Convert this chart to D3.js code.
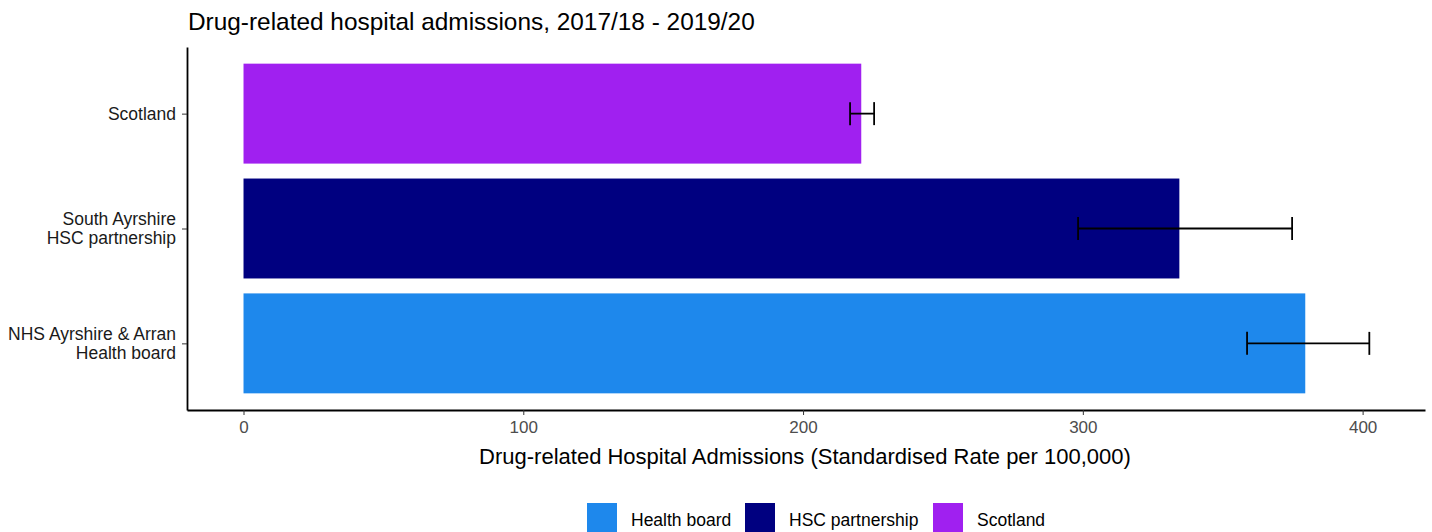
<!DOCTYPE html>
<html><head><meta charset="utf-8">
<script src="https://cdn.jsdelivr.net/npm/d3@7"></script>
<style>body{margin:0;background:#fff;font-family:"Liberation Sans",Arial,sans-serif;}</style>
</head><body><svg id="c" width="1432" height="532"></svg>
<script>
const categories = ["Scotland", "South Ayrshire\nHSC partnership", "NHS Ayrshire & Arran\nHealth board"];
const groups = ["Scotland", "HSC partnership", "Health board"];
const values = [220.8, 334.5, 379.5];
const lower = [216.8, 298.3, 358.7];
const upper = [225.4, 374.8, 402.4];
const xTicks = [0, 100, 200, 300, 400];
const legendKeys = ["Health board", "HSC partnership", "Scotland"];
const colors = {"Health board": "#1E88EC", "HSC partnership": "#000080", "Scotland": "#A020F0"};

const svg = d3.select("#c");
const L = 187, R = 1425, T = 47, B = 410;
const x = d3.scaleLinear().domain([-20.2, 422.3]).range([L, R]);
const y = d3.scalePoint().domain(categories).range([T, B]).padding(0.58);
const step = y.step();
const barH = step * 0.87;

svg.append("text").attr("x", 188).attr("y", 30).attr("font-size", 24.4).attr("fill", "#000")
  .text("Drug-related hospital admissions, 2017/18 - 2019/20");

// bars
svg.selectAll("rect.bar").data(categories).enter().append("rect")
  .attr("x", x(0)).attr("y", d => y(d) - barH / 2)
  .attr("width", (d, i) => x(values[i]) - x(0)).attr("height", barH)
  .attr("fill", (d, i) => colors[groups[i]]);

// error bars
const capH = 23;
const eb = svg.append("g").attr("stroke", "#000").attr("stroke-width", 1.8);
categories.forEach((c, i) => {
  const cy = y(c);
  eb.append("line").attr("x1", x(lower[i])).attr("x2", x(upper[i])).attr("y1", cy).attr("y2", cy);
  eb.append("line").attr("x1", x(lower[i])).attr("x2", x(lower[i])).attr("y1", cy - capH / 2).attr("y2", cy + capH / 2);
  eb.append("line").attr("x1", x(upper[i])).attr("x2", x(upper[i])).attr("y1", cy - capH / 2).attr("y2", cy + capH / 2);
});

// x axis
const xa = svg.append("g").attr("transform", `translate(0,${B})`)
  .call(d3.axisBottom(x).tickValues(xTicks).tickSize(5).tickPadding(6).tickSizeOuter(0));
xa.select(".domain").attr("stroke", "#000").attr("stroke-width", 1.8);
xa.selectAll(".tick line").attr("stroke", "#333").attr("stroke-width", 1);
xa.selectAll(".tick text").attr("font-size", 17).attr("fill", "#4d4d4d").attr("font-family", "Liberation Sans, Arial, sans-serif");

// y axis
const ya = svg.append("g").attr("transform", `translate(${L},0)`)
  .call(d3.axisLeft(y).tickSize(5).tickSizeOuter(0).tickFormat(""));
ya.select(".domain").attr("stroke", "#000").attr("stroke-width", 1.8);
ya.selectAll(".tick line").attr("stroke", "#333").attr("stroke-width", 1);
categories.forEach(c => {
  const lines = c.split("\n");
  const t = svg.append("text").attr("text-anchor", "end").attr("font-size", 17.5).attr("fill", "#1a1a1a");
  const lh = 19.5;
  const start = y(c) - (lines.length - 1) * lh / 2 + 6;
  lines.forEach((ln, k) => t.append("tspan").attr("x", 176).attr("y", start + k * lh).text(ln));
});

// x title
svg.append("text").attr("x", 805).attr("y", 464).attr("text-anchor", "middle")
  .attr("font-size", 22).attr("fill", "#000")
  .text("Drug-related Hospital Admissions (Standardised Rate per 100,000)");

// legend
const legX = [587, 745, 933];
const lg = svg.append("g");
legendKeys.forEach((k, i) => {
  lg.append("rect").attr("x", legX[i]).attr("y", 503).attr("width", 30).attr("height", 30).attr("fill", colors[k]);
  lg.append("text").attr("x", legX[i] + 44).attr("y", 526).attr("font-size", 17.5).attr("fill", "#000").text(k);
});
</script></body></html>
